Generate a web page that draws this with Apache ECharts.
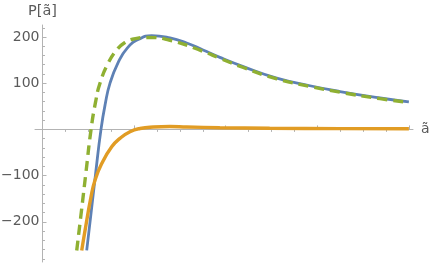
<!DOCTYPE html>
<html>
<head>
<meta charset="utf-8">
<script src="https://cdn.jsdelivr.net/npm/echarts@6/dist/echarts.min.js"></script>
<style>html,body{margin:0;padding:0;background:#fff}#c{width:436px;height:263px}</style>
</head>
<body>
<div id="c"></div>
<script>
// ---- data ----
const blueX   = [2.965, 3.05, 3.16, 3.277, 3.37, 3.474, 3.648, 3.85, 4.1, 4.384, 4.784, 5.148, 5.504, 5.871, 6.384, 7.114, 7.84, 8.495, 9.37, 10.0];
const blueY   = [-262, -190, -95, 0, 55, 100, 144, 176, 195, 203, 198, 187, 172, 156, 136, 111, 94.5, 82, 68, 59.6];

const orangeX = [2.856, 2.928, 3.059, 3.146, 3.293, 3.511, 3.692, 3.91, 4.13, 4.42, 4.78, 5.15, 5.87, 6.96, 8.5, 10.0];
const orangeY = [-262, -219, -146, -110, -74, -37.6, -19.3, -5, 2, 5.2, 6.3, 5.2, 3.7, 2.4, 1.7, 1.3];

const greenX  = [2.747, 2.84, 2.95, 3.06, 3.16, 3.255, 3.437, 3.62, 3.8, 4.0, 4.275, 4.784, 5.504, 5.871, 6.384, 7.114, 7.84, 8.495, 9.37, 10.0];
const greenY  = [-262, -185, -92, 0, 60, 100, 144, 172, 188, 196, 199, 193, 169, 154, 134, 109.5, 93, 80.5, 66.5, 58.5];

const xMajorTicks = [4, 6, 8, 10];
const xMinorTicks = [2.5, 3, 3.5, 4.5, 5, 5.5, 6.5, 7, 7.5, 8.5, 9, 9.5];
const yMajorTicks = [-200, -100, 100, 200];
const yMinorTicks = [-280, -260, -240, -220, -180, -160, -140, -120, -80, -60, -40, -20, 20, 40, 60, 80, 120, 140, 160, 180, 220];

const xName = 'ã';
const yName = 'P[ã]';

// ---- chart ----
const zip = (xs, ys) => xs.map((x, i) => [x, ys[i]]);
const AX = '#b3b3b3';
const LBL = '#5a5a5a';
const FONT = 'DejaVu Sans';
const X_MIN = 1.836, X_MAX = 10.09, Y_MIN = -287, Y_MAX = 226;

const chart = echarts.init(document.getElementById('c'), null, {renderer: 'canvas'});
chart.setOption({
  animation: false,
  backgroundColor: '#ffffff',
  grid: {left: 35, right: 23, top: 25, bottom: 1, containLabel: false, outerBoundsMode: 'none'},
  xAxis: [
    {
      type: 'value', min: X_MIN, max: X_MAX,
      name: xName, nameLocation: 'end', nameGap: 8,
      nameTextStyle: {color: LBL, fontFamily: FONT, fontSize: 14, verticalAlign: 'middle', padding: [0, 0, 3, 0]},
      axisLine: {show: true, onZero: true, onZeroAxisIndex: 0, lineStyle: {color: AX, width: 1}},
      axisTick: {show: true, inside: true, length: 4, customValues: xMajorTicks, lineStyle: {color: AX}},
      axisLabel: {show: true, customValues: xMajorTicks, margin: 7, color: LBL, fontFamily: FONT, fontSize: 14},
      splitLine: {show: false}
    },
    {
      type: 'value', min: X_MIN, max: X_MAX,
      axisLine: {show: true, onZero: true, onZeroAxisIndex: 0, lineStyle: {color: AX, opacity: 0}},
      axisTick: {show: true, inside: true, length: 2.5, customValues: xMinorTicks, lineStyle: {color: AX}},
      axisLabel: {show: false},
      splitLine: {show: false}
    }
  ],
  yAxis: [
    {
      type: 'value', min: Y_MIN, max: Y_MAX, position: 'left', offset: -7.5,
      name: yName, nameLocation: 'end', nameGap: 6,
      nameTextStyle: {color: LBL, fontFamily: FONT, fontSize: 14.5, align: 'center'},
      axisLine: {show: true, onZero: false, lineStyle: {color: AX, width: 1}},
      axisTick: {show: true, inside: true, length: 4, customValues: yMajorTicks, lineStyle: {color: AX}},
      axisLabel: {show: true, customValues: yMajorTicks, margin: 3, color: LBL, fontFamily: FONT, fontSize: 14,
                  formatter: v => (v < 0 ? '\u2212' + Math.abs(v) : String(v))},
      splitLine: {show: false}
    },
    {
      type: 'value', min: Y_MIN, max: Y_MAX, position: 'left', offset: -7.5,
      axisLine: {show: false, onZero: false},
      axisTick: {show: true, inside: true, length: 2.5, customValues: yMinorTicks, lineStyle: {color: AX}},
      axisLabel: {show: false},
      splitLine: {show: false}
    }
  ],
  series: [
    {type: 'line', data: zip(blueX, blueY), smooth: 0.5, showSymbol: false,
     lineStyle: {color: '#5E81B5', width: 2.8}, z: 2},
    {type: 'line', data: zip(orangeX, orangeY), smooth: 0.5, showSymbol: false,
     lineStyle: {color: '#E19C24', width: 3.4}, z: 3},
    {type: 'line', data: zip(greenX, greenY), smooth: 0.5, showSymbol: false,
     lineStyle: {color: '#8FB032', width: 3.4, type: [10, 6]}, z: 4}
  ]
});
</script>
</body>
</html>
